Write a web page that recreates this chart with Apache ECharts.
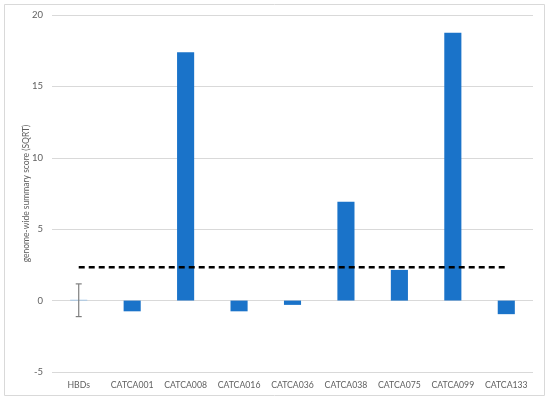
<!DOCTYPE html>
<html><head><meta charset="utf-8">
<script src="https://cdn.jsdelivr.net/npm/echarts@6/dist/echarts.min.js"></script>
<style>html,body{margin:0;padding:0;background:#fff}#c{width:550px;height:401px}</style>
</head><body><div id="c"></div>
<script>
var categories = ["HBDs","CATCA001","CATCA008","CATCA016","CATCA036","CATCA038","CATCA075","CATCA099","CATCA133"];
var scores = [0.06,-0.75,17.4,-0.75,-0.3,6.92,2.15,18.75,-0.95];
var threshold = [2.33,2.33,2.33,2.33,2.33,2.33,2.33,2.33,2.33];
var errLow = [-1.12];
var errHigh = [1.17];
var yTicks = [-5,0,5,10,15,20];

var chart = echarts.init(document.getElementById('c'));
var font = 'Lato, sans-serif';
chart.setOption({
  animation:false,
  graphic:[{type:'rect',shape:{x:4.5,y:4.5,width:540,height:391},style:{fill:'none',stroke:'#d9d9d9',lineWidth:1}}],
  grid:{left:52,right:17,top:15,bottom:29},
  xAxis:{type:'category',data:categories,
    axisLine:{show:false},axisTick:{show:false},
    axisLabel:{color:'#606060',fontSize:8.7,fontFamily:font,margin:9,interval:0}},
  yAxis:{type:'value',min:yTicks[0],max:yTicks[yTicks.length-1],interval:5,
    name:'genome-wide summary score (SQRT)',nameLocation:'middle',nameGap:21,nameMoveOverlap:false,
    nameTextStyle:{color:'#606060',fontSize:8.5,fontFamily:font},
    axisLine:{show:false},axisTick:{show:false},
    axisLabel:{color:'#606060',fontSize:9.5,fontFamily:font,margin:9},
    splitLine:{lineStyle:{color:'#d9d9d9',width:1}}},
  series:[
    {type:'bar',data:scores.map(function(v,i){return i===0?{value:v,itemStyle:{color:'#9dc3e6'}}:v;}),
     barWidth:'32%',itemStyle:{color:'#1a73c9'}},
    {type:'line',data:threshold,symbol:'none',lineStyle:{color:'#000',width:2.5,type:[6,4]},z:5},
    {type:'custom',z:6,data:errLow.map(function(lo,i){return [i,lo,errHigh[i]];}),
     renderItem:function(params,api){
       var x=api.value(0);
       var p1=api.coord([x,api.value(1)]);
       var p2=api.coord([x,api.value(2)]);
       var h=3;
       var st={stroke:'#7f7f7f',lineWidth:1.2};
       return {type:'group',children:[
         {type:'line',shape:{x1:p1[0],y1:p1[1],x2:p2[0],y2:p2[1]},style:st},
         {type:'line',shape:{x1:p1[0]-h,y1:p1[1],x2:p1[0]+h,y2:p1[1]},style:st},
         {type:'line',shape:{x1:p2[0]-h,y1:p2[1],x2:p2[0]+h,y2:p2[1]},style:st}
       ]};
     }}
  ]
});
</script></body></html>
